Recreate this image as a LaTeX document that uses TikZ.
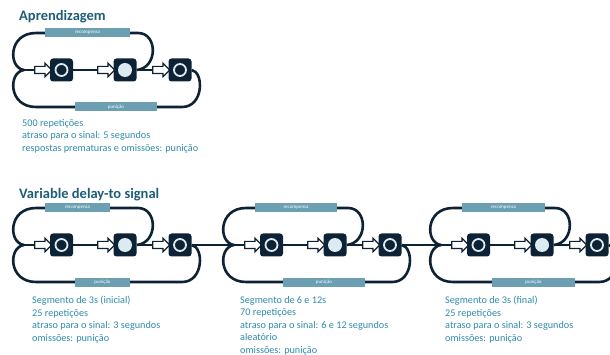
\documentclass[tikz,border=0pt]{standalone}
\usepackage{fontspec}
\setmainfont{Carlito}
\usetikzlibrary{shapes.arrows,backgrounds}
\definecolor{navy}{HTML}{0E2235}
\definecolor{barc}{HTML}{6B9FB1}
\definecolor{titlec}{HTML}{1D5D78}
\definecolor{textc}{HTML}{2F8AAC}
\definecolor{ringc}{HTML}{DCEAF1}
\tikzset{
  conn/.style={draw=navy, line width=2.6pt},
  boxn/.style={fill=navy, rounded corners=3pt, minimum width=23pt, minimum height=23pt, inner sep=0pt},
  arrn/.style={single arrow, draw=navy, fill=white, line width=1.2pt, minimum height=17pt,
    inner xsep=0pt, inner ysep=3pt, single arrow head extend=3.2pt},
  barn/.style={fill=barc, text=white, font=\fontsize{5}{5}\selectfont, minimum height=9pt, inner sep=0pt},
  ringn/.style={circle, draw=ringc, line width=1.8pt, fill=navy, minimum size=12pt, inner sep=0pt},
  dotn/.style={circle, fill=ringc, minimum size=14pt, inner sep=0pt},
  titlen/.style={font=\fontsize{14.5}{16}\selectfont\bfseries, text=titlec, inner sep=0pt, anchor=west},
  txtn/.style={font=\fontsize{10.2}{12.5}\selectfont, text=textc, inner sep=0pt, anchor=north west, align=left}
}
\newcommand\drawseg[8]{%
\begin{scope}[shift={(#2,#3)}]
  \coordinate (#1j) at (24,70);
  \node[arrn] (#1a1) at (41.5,70) {};
  \node[boxn] (#1b1) at (61.5,70) {};
  \node[ringn] (#1r1) at (#1b1.center) {};
  \node[arrn] (#1a2) at (104.5,70) {};
  \node[boxn] (#1b2) at (125,70) {};
  \node[dotn] (#1r2) at (#1b2.center) {};
  \node[arrn] (#1a3) at (159.5,70) {};
  \node[boxn] (#1b3) at (180,70) {};
  \node[ringn] (#1r3) at (#1b3.center) {};
  \node[barn, minimum width={#5-#4}] (#1ub) at ({(#4+#5)/2},33) {recompensa};
  \node[barn, minimum width={#7-#6}] (#1lb) at ({(#6+#7)/2},107) {#8};
  \begin{pgfonlayer}{background}
    \draw[conn] (#1ub.west) -- (36,33) .. controls (8,33) and (8,68) .. (#1j);
    \draw[conn] (#1lb.west) -- (36,107) .. controls (8,107) and (8,72) .. (#1j);
    \draw[conn] (#1j) -- (#1a1.tail);
    \draw[conn] (#1b1.east) -- (#1a2.tail);
    \draw[conn] (#1b2.east) -- (#1a3.tail);
    \draw[conn] (#1ub.east) -- (138,33) .. controls (158,33) and (158,68) .. (#1b2.east);
    \draw[conn] (#1lb.east) -- (182,107) .. controls (204,107) and (204,72) .. (#1b3.east);
  \end{pgfonlayer}
\end{scope}}
\begin{document}
\begin{tikzpicture}[x=1pt,y=-1pt]
\useasboundingbox (0,0) rectangle (610,355);
\clip (0,0) rectangle (610,355);
\node[titlen] (t1) at (19,17) {Aprendizagem};
\drawseg{p}{0}{0}{45}{130}{75}{157}{punição}
\node[txtn] (tx0) at (22,119) {500 repetições\\atraso para o sinal: 5 segundos\\respostas prematuras e omissões: punição};

\node[titlen] (t2) at (19,195) {Variable delay-to signal};
\drawseg{s}{0}{175}{45}{110}{75}{130}{punição}
\drawseg{m}{210}{175}{45}{127}{73}{155}{punição}
\drawseg{f}{417}{175}{45}{128}{75}{158}{punição}
\begin{pgfonlayer}{background}
  \draw[conn] (sb3.east) -- (mj);
  \draw[conn] (mb3.east) -- (fj);
  \draw[conn] (fb3.east) -- ++(20,0) coordinate (fend);
\end{pgfonlayer}
\node[txtn] (tx1) at (32,296) {Segmento de 3s (inicial)\\25 repetições\\atraso para o sinal: 3 segundos\\omissões: punição};
\node[txtn] (tx2) at (240,296) {Segmento de 6 e 12s\\70 repetições\\atraso para o sinal: 6 e 12 segundos\\aleatório\\omissões: punição};
\node[txtn] (tx3) at (445,296) {Segmento de 3s (final)\\25 repetições\\atraso para o sinal: 3 segundos\\omissões: punição};
\end{tikzpicture}
\end{document}
